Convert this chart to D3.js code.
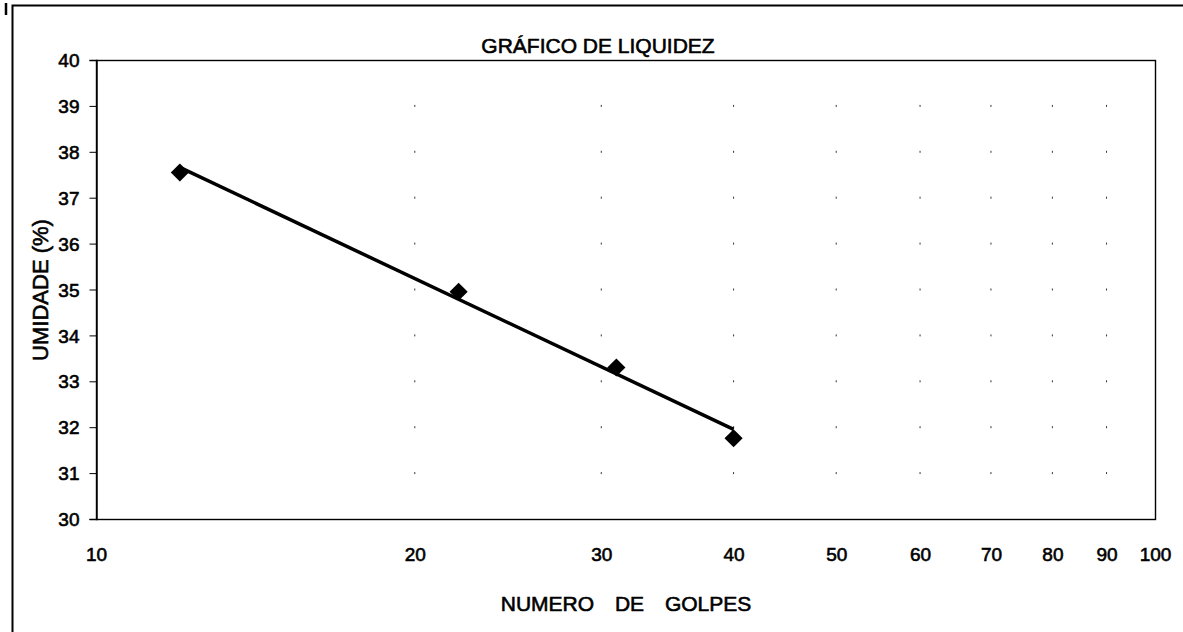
<!DOCTYPE html>
<head>
  <meta charset="utf-8" />
  <script src="https://cdn.jsdelivr.net/npm/d3@7"></script>
  <style>
    body {
      margin: 0;
      background-color: #fff;
    }
    text {
      font-family: "Liberation Sans", Arial, sans-serif;
      fill: #000;
      stroke: #000;
      stroke-width: 0.6px;
    }
  </style>
</head>

<body>
  <script>
    // ensaio de Casagrande: numero de golpes x umidade
    var golpes = [12, 22, 31, 40];
    var umidade = [37.55, 34.95, 33.3, 31.76];
    var xTicks = [10, 20, 30, 40, 50, 60, 70, 80, 90, 100];
    var yTicks = [30, 31, 32, 33, 34, 35, 36, 37, 38, 39, 40];

    var width = 1183,
      height = 632;
    var plot = { left: 96, right: 1155, top: 60, bottom: 519 };

    var svg = d3
      .select("body")
      .append("svg")
      .attr("width", width)
      .attr("height", height);

    var x = d3.scaleLog().domain([10, 100]).range([plot.left, plot.right]);
    var y = d3.scaleLinear().domain([30, 40]).range([plot.bottom, plot.top]);

    // moldura externa
    svg
      .append("path")
      .attr("d", "M12.5," + height + "V5.5H" + width)
      .attr("fill", "none")
      .attr("stroke", "#000")
      .attr("stroke-width", 2);
    svg
      .append("line")
      .attr("x1", 6)
      .attr("x2", 6)
      .attr("y1", 3)
      .attr("y2", 15)
      .attr("stroke", "#000")
      .attr("stroke-width", 2.5);

    // pontos da grade (restos de linhas pontilhadas)
    var step = y(30) - y(31);
    svg
      .append("g")
      .selectAll("line")
      .data(xTicks.slice(1, -1))
      .enter()
      .append("line")
      .attr("x1", d => x(d))
      .attr("x2", d => x(d))
      .attr("y1", y(39) - 1)
      .attr("y2", y(31) + 1)
      .attr("stroke", "#333")
      .attr("stroke-width", 1)
      .attr("stroke-dasharray", "2," + (step - 2));

    // caixa da area do grafico
    svg
      .append("rect")
      .attr("x", plot.left + 0.5)
      .attr("y", plot.top + 0.5)
      .attr("width", plot.right - plot.left)
      .attr("height", plot.bottom - plot.top)
      .attr("fill", "none")
      .attr("stroke", "#000")
      .attr("stroke-width", 1.4);

    var yAxis = svg
      .append("g")
      .attr("transform", "translate(" + (plot.left + 0.5) + ",0)")
      .call(
        d3
          .axisLeft(y)
          .tickValues(yTicks)
          .tickSize(7)
          .tickPadding(10)
          .tickFormat(d3.format("d"))
      );
    yAxis.select(".domain").attr("stroke-width", 1.4);
    yAxis.selectAll("text").style("font-size", "19px").attr("dy", "0.35em");

    var xAxis = svg
      .append("g")
      .attr("transform", "translate(0," + (plot.bottom + 0.5) + ")")
      .call(
        d3
          .axisBottom(x)
          .tickValues(xTicks)
          .tickSize(0)
          .tickPadding(28)
          .tickFormat(d3.format("d"))
      );
    xAxis.select(".domain").remove();
    xAxis.selectAll("text").style("font-size", "19px");

    // linha de tendencia logaritmica
    var lx = golpes.map(d => Math.log(d));
    var mx = d3.mean(lx),
      my = d3.mean(umidade);
    var b =
      d3.sum(lx, (d, i) => (d - mx) * (umidade[i] - my)) /
      d3.sum(lx, d => (d - mx) * (d - mx));
    var a = my - b * mx;
    var ends = d3.extent(golpes);

    svg
      .append("line")
      .attr("x1", x(ends[0]))
      .attr("y1", y(a + b * Math.log(ends[0])))
      .attr("x2", x(ends[1]))
      .attr("y2", y(a + b * Math.log(ends[1])))
      .attr("stroke", "#000")
      .attr("stroke-width", 3.5);

    svg
      .append("g")
      .selectAll("path")
      .data(golpes)
      .enter()
      .append("path")
      .attr("d", d3.symbol().type(d3.symbolDiamond2).size(210))
      .attr("transform", (d, i) => "translate(" + x(d) + "," + y(umidade[i]) + ")")
      .attr("fill", "#000");

    svg
      .append("text")
      .attr("x", 598)
      .attr("y", 53)
      .attr("text-anchor", "middle")
      .style("font-size", "21px")
      .text("GRÁFICO DE LIQUIDEZ");

    svg
      .append("text")
      .attr("x", 626)
      .attr("y", 611)
      .attr("text-anchor", "middle")
      .style("font-size", "21px")
      .style("word-spacing", "15px")
      .text("NUMERO DE GOLPES");

    svg
      .append("text")
      .attr("transform", "translate(48,290) rotate(-90)")
      .attr("text-anchor", "middle")
      .style("font-size", "22px")
      .text("UMIDADE (%)");
  </script>
</body>
